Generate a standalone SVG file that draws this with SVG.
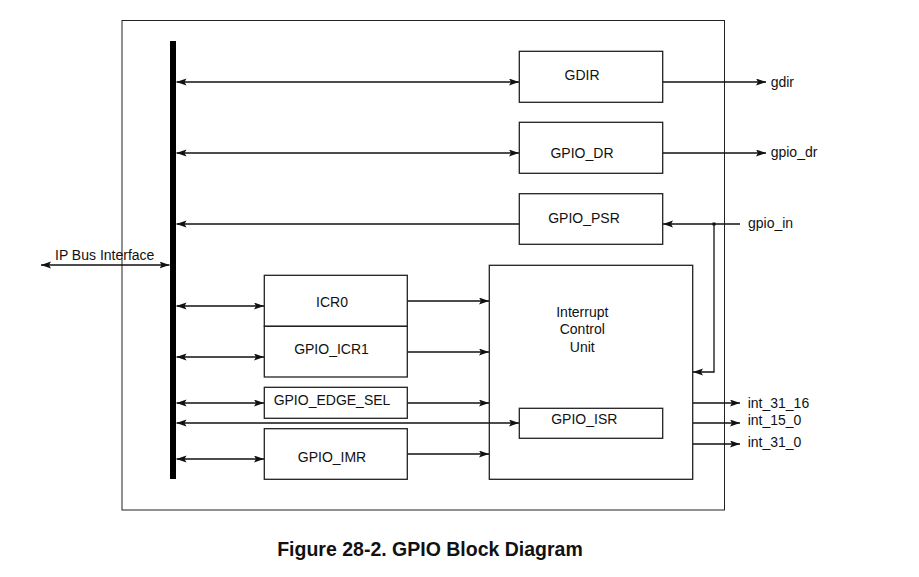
<svg xmlns="http://www.w3.org/2000/svg" width="919" height="577" viewBox="0 0 919 577">
<style>
.box{fill:none;stroke:#222;stroke-width:1.3}
.ln{fill:none;stroke:#111;stroke-width:1.3}
.t{font-family:"Liberation Sans",Arial,sans-serif;font-size:14px;fill:#111}
.c{text-anchor:middle}
.cap{font-family:"Liberation Sans",Arial,sans-serif;font-size:19.5px;font-weight:bold;fill:#111;text-anchor:middle}
</style>
<defs>
<marker id="ah" markerUnits="userSpaceOnUse" markerWidth="10" markerHeight="8" refX="10" refY="3.5" orient="auto-start-reverse">
<path d="M0,0 L10,3.5 L0,7 L2,3.5 z" fill="#111"/>
</marker>
</defs>
<rect x="0" y="0" width="919" height="577" fill="#fff"/>
<g id="frame"><rect x="122" y="20.5" width="602.5" height="489.5" fill="none" stroke="#222" stroke-width="1"/></g>
<g id="bus"><rect x="170" y="41" width="6" height="438" fill="#000"/></g>

<g id="connectors">
<line class="ln" x1="176.5" y1="82" x2="519" y2="82" marker-start="url(#ah)" marker-end="url(#ah)"/>
<line class="ln" x1="176.5" y1="153" x2="519" y2="153" marker-start="url(#ah)" marker-end="url(#ah)"/>
<line class="ln" x1="519" y1="224" x2="176.5" y2="224" marker-end="url(#ah)"/>
<line class="ln" x1="663" y1="82" x2="766" y2="82" marker-end="url(#ah)"/>
<line class="ln" x1="663" y1="153" x2="766" y2="153" marker-end="url(#ah)"/>
<line class="ln" x1="740" y1="224" x2="663" y2="224" marker-end="url(#ah)"/>
<polyline class="ln" points="714,224 714,372 693,372" marker-end="url(#ah)"/>
<rect x="712.5" y="222.5" width="3" height="3" fill="#111"/>
<line class="ln" x1="41" y1="265" x2="169.5" y2="265" marker-start="url(#ah)" marker-end="url(#ah)"/>
<line class="ln" x1="176.5" y1="306" x2="264" y2="306" marker-start="url(#ah)" marker-end="url(#ah)"/>
<line class="ln" x1="176.5" y1="357" x2="264" y2="357" marker-start="url(#ah)" marker-end="url(#ah)"/>
<line class="ln" x1="176.5" y1="403" x2="264" y2="403" marker-start="url(#ah)" marker-end="url(#ah)"/>
<line class="ln" x1="176.5" y1="423" x2="519" y2="423" marker-start="url(#ah)" marker-end="url(#ah)"/>
<line class="ln" x1="176.5" y1="459" x2="264" y2="459" marker-start="url(#ah)" marker-end="url(#ah)"/>
<line class="ln" x1="407" y1="301" x2="489" y2="301" marker-end="url(#ah)"/>
<line class="ln" x1="407" y1="352" x2="489" y2="352" marker-end="url(#ah)"/>
<line class="ln" x1="407" y1="403" x2="489" y2="403" marker-end="url(#ah)"/>
<line class="ln" x1="407" y1="454" x2="489" y2="454" marker-end="url(#ah)"/>
<line class="ln" x1="693" y1="403" x2="740" y2="403" marker-end="url(#ah)"/>
<line class="ln" x1="693" y1="423" x2="740" y2="423" marker-end="url(#ah)"/>
<line class="ln" x1="693" y1="444" x2="740" y2="444" marker-end="url(#ah)"/>
</g>

<g id="gdir"><rect class="box" x="519.3" y="51.3" width="143.4" height="51"/><text class="t c" x="582" y="80">GDIR</text></g>
<g id="gpio_dr"><rect class="box" x="519.3" y="122.3" width="143.4" height="51"/><text class="t c" x="582" y="158">GPIO_DR</text></g>
<g id="gpio_psr"><rect class="box" x="519.3" y="193.7" width="143.4" height="50.6"/><text class="t c" x="584" y="223">GPIO_PSR</text></g>
<g id="icr0"><rect class="box" x="264.3" y="275.3" width="143" height="51"/><text class="t c" x="332" y="306.5">ICR0</text></g>
<g id="gpio_icr1"><rect class="box" x="264.3" y="326.3" width="143" height="50.7"/><text class="t c" x="331.5" y="354">GPIO_ICR1</text></g>
<g id="gpio_edge_sel"><rect class="box" x="264.3" y="387.3" width="143" height="31"/><text class="t c" x="332" y="405">GPIO_EDGE_SEL</text></g>
<g id="gpio_imr"><rect class="box" x="264.3" y="428.7" width="143" height="50.6"/><text class="t c" x="332" y="462">GPIO_IMR</text></g>
<g id="icu"><rect class="box" x="489.3" y="265.3" width="203.4" height="214"/>
<text class="t c" x="582.3" y="316.5">Interrupt</text>
<text class="t c" x="582.3" y="334">Control</text>
<text class="t c" x="582.3" y="351.5">Unit</text></g>
<g id="gpio_isr"><rect class="box" x="519.3" y="408.3" width="143.4" height="30"/><text class="t c" x="584.3" y="424">GPIO_ISR</text></g>

<g id="labels">
<text class="t" x="55" y="260">IP Bus Interface</text>
<text class="t" x="770.7" y="87">gdir</text>
<text class="t" x="770.7" y="157">gpio_dr</text>
<text class="t" x="748" y="228">gpio_in</text>
<text class="t" x="747.7" y="408">int_31_16</text>
<text class="t" x="747.7" y="425">int_15_0</text>
<text class="t" x="747.7" y="446.5">int_31_0</text>
</g>
<text class="cap" x="430" y="556">Figure 28-2. GPIO Block Diagram</text>
</svg>
